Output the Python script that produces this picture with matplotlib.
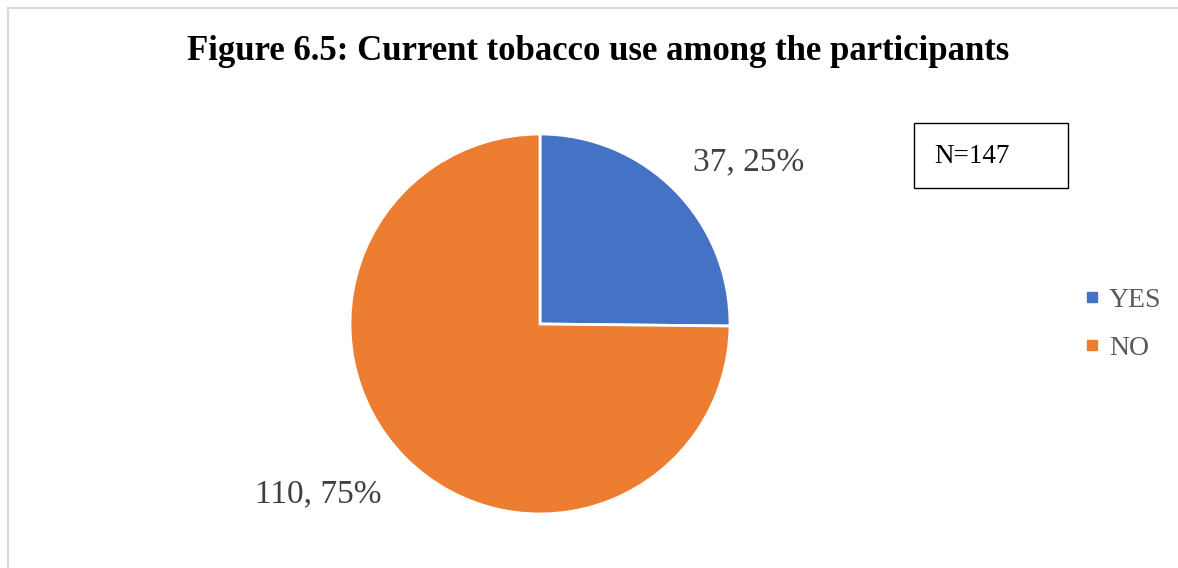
import matplotlib
matplotlib.use('Agg')
import matplotlib.pyplot as plt
from matplotlib.patches import Rectangle
from matplotlib.lines import Line2D

categories = ['YES', 'NO']
counts = [37, 110]
percents = [25, 75]
colors = ['#4472C4', '#ED7D31']
total_n = 147

plt.rcParams['font.family'] = ['Liberation Serif', 'DejaVu Serif']

W, H = 1178, 568
fig = plt.figure(figsize=(W / 100, H / 100), dpi=100)

# chart area border (left and top only visible)
fig.add_artist(Line2D([8 / W, 8 / W], [0, 1 - 8 / H], color='#d9d9d9', lw=1.5))
fig.add_artist(Line2D([8 / W, 1], [1 - 8 / H, 1 - 8 / H], color='#d9d9d9', lw=1.5))

fig.text(598 / W, 1 - 51 / H, 'Figure 6.5: Current tobacco use among the participants',
         ha='center', va='center', fontsize=25, fontweight='bold', color='black')

# pie centred at (540, 324) px, radius ~190 px
cx, cy, half = 540, 324, 200
ax = fig.add_axes([(cx - half) / W, (H - cy - half) / H, 2 * half / W, 2 * half / H])
wedges, _ = ax.pie(counts, colors=colors, startangle=90, counterclock=False,
                   radius=0.95, wedgeprops=dict(edgecolor='white', linewidth=2))
ax.set_xlim(-1, 1)
ax.set_ylim(-1, 1)
ax.set_aspect('equal')
ax.axis('off')

# data labels (positions relative to pie centre, in axes data units)
label_pos = [(209 / half, 162 / half), (-222 / half, -170 / half)]
for (x, y), c, p in zip(label_pos, counts, percents):
    ax.text(x, y, f'{c}, {p}%', ha='center', va='center', fontsize=24,
            color='#404040', clip_on=False)

# N box
fig.add_artist(Rectangle((914 / W, 1 - 188 / H), 154 / W, 65 / H,
                         transform=fig.transFigure, fill=False, edgecolor='black', lw=1))
fig.text(934 / W, 1 - 156 / H, f'N={total_n}', ha='left', va='center',
         fontsize=19.5, color='black')

# legend
handles = [Line2D([], [], marker='s', linestyle='none', markersize=7,
                  markerfacecolor=c, markeredgecolor=c) for c in colors]
leg = fig.legend(handles, categories, loc='center left',
                 bbox_to_anchor=(1070 / W, 1 - 324 / H), frameon=False,
                 fontsize=20, labelspacing=0.8, handlelength=0.6,
                 handletextpad=0.3, borderpad=0)
for t in leg.get_texts():
    t.set_color('#595959')

fig.savefig('out.png', dpi=100, facecolor='white')
